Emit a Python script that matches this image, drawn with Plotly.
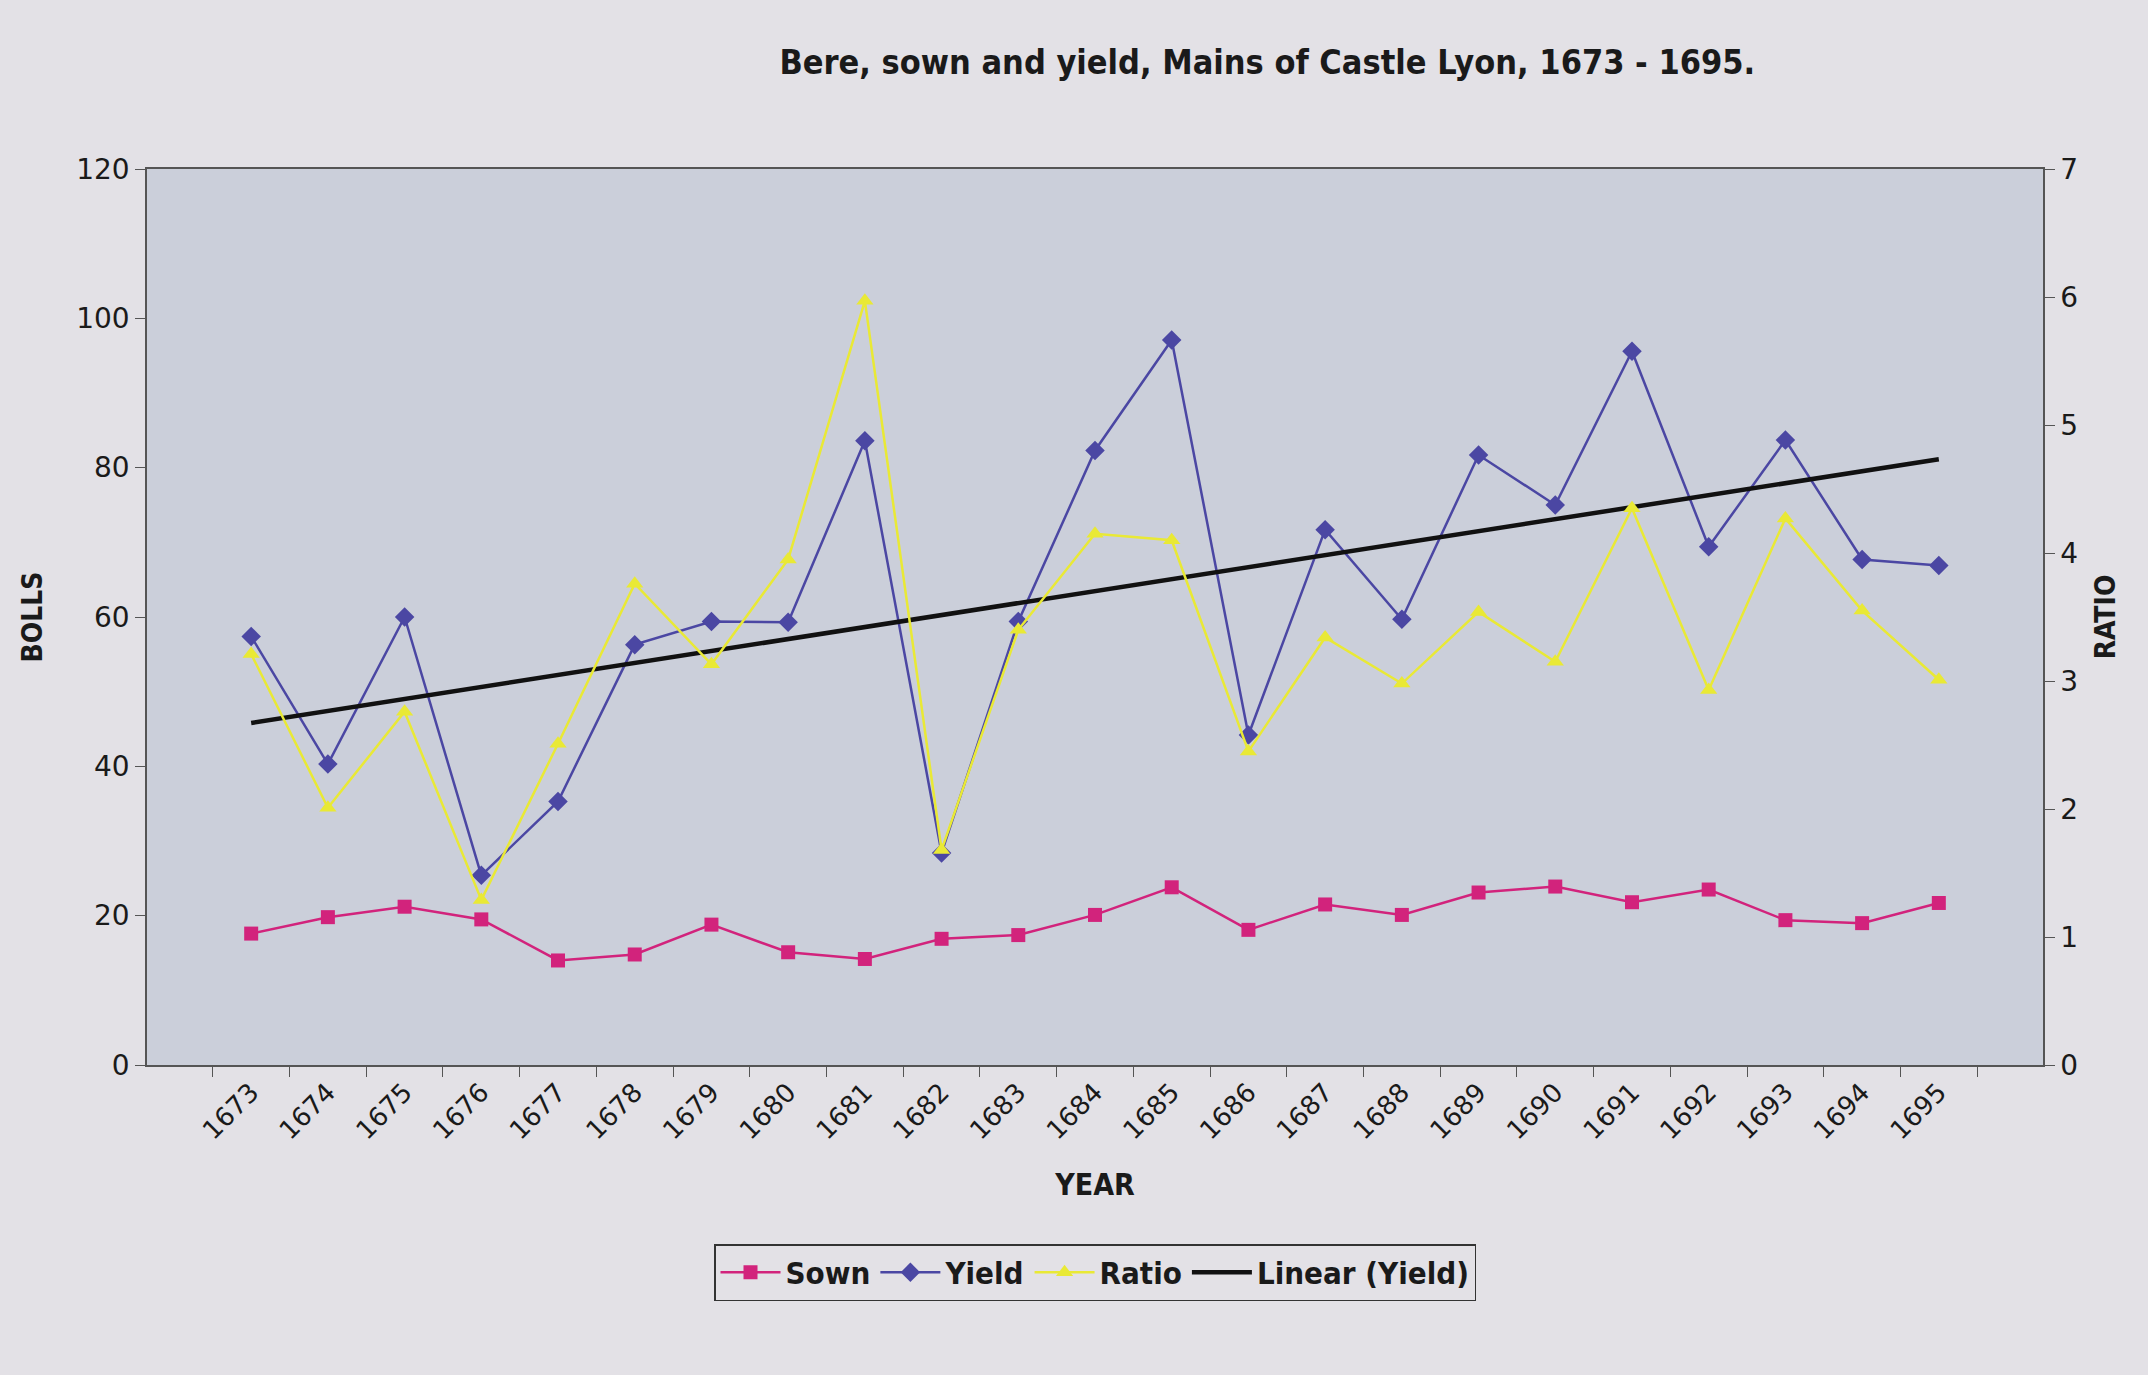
import numpy as np
import plotly.graph_objects as go

years = ["1673", "1674", "1675", "1676", "1677", "1678", "1679", "1680", "1681", "1682",
         "1683", "1684", "1685", "1686", "1687", "1688", "1689", "1690", "1691", "1692",
         "1693", "1694", "1695"]
sown = [17.6, 19.8, 21.2, 19.5, 14.0, 14.8, 18.8, 15.1, 14.2, 16.9, 17.4, 20.1,
        23.8, 18.1, 21.5, 20.1, 23.1, 23.9, 21.8, 23.5, 19.4, 19.0, 21.7]
yield_bolls = [57.4, 40.3, 60.0, 25.4, 35.3, 56.3, 59.4, 59.3, 83.6, 28.4, 59.4, 82.3,
               97.1, 44.2, 71.7, 59.7, 81.7, 75.0, 95.6, 69.4, 83.7, 67.7, 66.9]
ratio = [3.21, 2.01, 2.76, 1.29, 2.51, 3.76, 3.13, 3.95, 5.97, 1.68, 3.40, 4.15,
         4.10, 2.45, 3.34, 2.98, 3.54, 3.15, 4.35, 2.93, 4.27, 3.55, 3.01]

# Linear trendline of yield (as Excel's "Linear (Yield)")
idx = np.arange(len(years))
slope, intercept = np.polyfit(idx, yield_bolls, 1)
trend = slope * idx + intercept

SOWN_C = "#D2237C"
YIELD_C = "#4B47A3"
RATIO_C = "#E9E935"
TXT = "#1a1a1a"
BOLD_FONT = "DejaVu Sans Condensed, DejaVu Sans, sans-serif"
TICK_FONT = "DejaVu Sans, Verdana, sans-serif"

fig = go.Figure()
fig.add_trace(go.Scatter(x=years, y=sown, name="Sown", mode="lines+markers",
                         line=dict(color=SOWN_C, width=2.5),
                         marker=dict(symbol="square", size=14, color=SOWN_C)))
fig.add_trace(go.Scatter(x=years, y=yield_bolls, name="Yield", mode="lines+markers",
                         line=dict(color=YIELD_C, width=2.5),
                         marker=dict(symbol="diamond", size=15, color=YIELD_C)))
fig.add_trace(go.Scatter(x=years, y=ratio, name="Ratio", mode="lines+markers", yaxis="y2",
                         line=dict(color=RATIO_C, width=2.5),
                         marker=dict(symbol="triangle-up", size=15, color=RATIO_C)))
fig.add_trace(go.Scatter(x=years, y=trend, name="Linear (Yield)", mode="lines",
                         line=dict(color="#111111", width=4.5)))

fig.update_layout(
    width=2148, height=1375,
    margin=dict(l=147, r=105, t=169, b=310),
    paper_bgcolor="#E3E1E6",
    plot_bgcolor="#CBCFDA",
    title=dict(text="<b>Bere, sown and yield, Mains of Castle Lyon, 1673 - 1695.</b>",
               x=0.59, xanchor="center", y=0.955, yanchor="middle",
               font=dict(family=BOLD_FONT, size=34, color=TXT)),
    xaxis=dict(type="category", tickson="boundaries", ticks="outside", ticklen=10,
               tickcolor="#555", tickangle=-45, showgrid=False, showline=True,
               linecolor="#555", linewidth=1.5, mirror=True,
               tickfont=dict(family=TICK_FONT, size=26, color=TXT),
               title=dict(text="<b>YEAR</b>", standoff=30,
                          font=dict(family=BOLD_FONT, size=30, color=TXT))),
    yaxis=dict(range=[0, 120], dtick=20, ticks="outside", ticklen=10, tickcolor="#555",
               showgrid=False, showline=True, linecolor="#555", linewidth=1.5,
               zeroline=False,
               tickfont=dict(family=TICK_FONT, size=28, color=TXT),
               title=dict(text="<b>BOLLS</b>", standoff=25,
                          font=dict(family=BOLD_FONT, size=28, color=TXT))),
    yaxis2=dict(range=[0, 7], dtick=1, overlaying="y", side="right", ticks="outside",
                ticklen=10, tickcolor="#555", showgrid=False, showline=True,
                linecolor="#555", linewidth=1.5, zeroline=False,
                tickfont=dict(family=TICK_FONT, size=28, color=TXT),
                title=dict(text="<b>RATIO</b>", standoff=18,
                           font=dict(family=BOLD_FONT, size=28, color=TXT))),
    legend=dict(orientation="h", x=0.5, xanchor="center", y=-0.2, yanchor="top",
                bordercolor="#333", borderwidth=1.5, bgcolor="rgba(0,0,0,0)",
                font=dict(family=BOLD_FONT, size=31, color=TXT, weight="bold"),
                itemwidth=60),
    showlegend=True,
)

fig.write_html("out.html",
               config={"displayModeBar": False},
               post_script="document.body.style.margin='0';document.body.style.overflow='hidden';")
